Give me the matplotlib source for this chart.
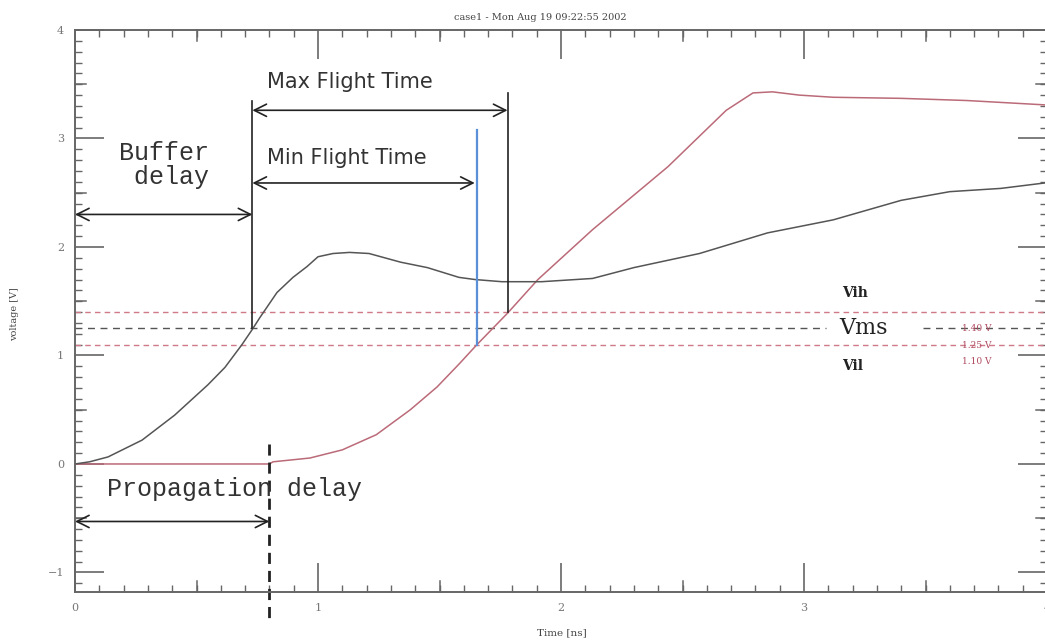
import matplotlib
matplotlib.use("Agg")
import matplotlib.pyplot as plt
import matplotlib.transforms as mtransforms

# ---- data ----
t_drv = [0, 0.06, 0.136, 0.276, 0.41, 0.547, 0.617, 0.687, 0.728, 0.761, 0.831, 0.897,
         0.955, 1.0, 1.062, 1.13, 1.21, 1.34, 1.45, 1.58, 1.646, 1.757, 1.92, 2.13,
         2.30, 2.57, 2.85, 3.12, 3.40, 3.60, 3.81, 3.99]
v_drv = [0, 0.02, 0.065, 0.22, 0.45, 0.73, 0.89, 1.10, 1.235, 1.35, 1.58, 1.72,
         1.82, 1.91, 1.94, 1.95, 1.94, 1.86, 1.81, 1.72, 1.70, 1.68, 1.68, 1.71,
         1.81, 1.94, 2.13, 2.25, 2.43, 2.51, 2.54, 2.59]

t_rcv = [0, 0.80, 0.815, 0.967, 1.10, 1.24, 1.38, 1.49, 1.58, 1.654, 1.78, 1.905,
         2.13, 2.44, 2.68, 2.79, 2.87, 2.98, 3.12, 3.40, 3.67, 3.99]
v_rcv = [0, 0, 0.02, 0.055, 0.13, 0.27, 0.50, 0.71, 0.92, 1.10, 1.39, 1.70,
         2.16, 2.74, 3.26, 3.42, 3.43, 3.40, 3.38, 3.37, 3.35, 3.31]

v_ih, v_ms, v_il = 1.40, 1.25, 1.10
thr_labels = ["1.40 V", "1.25 V", "1.10 V"]

t_buf = 0.73    # buffer delay end / flight time start
t_prop = 0.80   # propagation delay
t_min = 1.655   # min flight time end
t_max = 1.78    # max flight time end

x_ticks = [0, 1, 2, 3, 4]
y_ticks = [-1, 0, 1, 2, 3, 4]

title = "case1 - Mon Aug 19 09:22:55 2002"

# ---- figure ----
W, H = 1045, 641
fig = plt.figure(figsize=(W / 100, H / 100), dpi=100)
ax_l, ax_r, ax_t, ax_b = 75, 1047, 30, 592
ax = fig.add_axes([ax_l / W, 1 - ax_b / H, (ax_r - ax_l) / W, (ax_b - ax_t) / H])
ax.set_xlim(0, 4)
ax.set_ylim(-1.18, 4)

spine_c = "#666666"
for s in ax.spines.values():
    s.set_color(spine_c)
    s.set_linewidth(1.4)

ax.set_xticks(x_ticks)
ax.set_yticks(y_ticks)
ax.set_xticks([i / 10 for i in range(0, 41)], minor=True)
ax.set_yticks([i / 10 for i in range(-11, 41)], minor=True)
ax.tick_params(which="major", direction="in", length=21, width=1.2, color=spine_c,
               top=True, right=True, labelsize=8, labelcolor="#777777", pad=8)
ax.tick_params(which="minor", direction="in", length=5, width=1.0, color=spine_c,
               top=True, right=True)
for lab in ax.get_xticklabels() + ax.get_yticklabels():
    lab.set_family("DejaVu Serif")

# medium ticks at half units
tx = mtransforms.blended_transform_factory(ax.transData, ax.transAxes)
ty = mtransforms.blended_transform_factory(ax.transAxes, ax.transData)
mh = 11 / (ax_b - ax_t)
mw = 11 / (ax_r - ax_l)
for x in [0.5, 1.5, 2.5, 3.5]:
    ax.plot([x, x], [0, mh], transform=tx, color=spine_c, lw=1.1, clip_on=False)
    ax.plot([x, x], [1, 1 - mh], transform=tx, color=spine_c, lw=1.1, clip_on=False)
for y in [-0.5, 0.5, 1.5, 2.5, 3.5]:
    ax.plot([0, mw], [y, y], transform=ty, color=spine_c, lw=1.1, clip_on=False)
    ax.plot([1, 1 - mw], [y, y], transform=ty, color=spine_c, lw=1.1, clip_on=False)

# threshold lines
red_thr = "#d07a88"
ax.axhline(v_ih, color=red_thr, lw=1.0, ls=(0, (4, 3)))
ax.axhline(v_il, color=red_thr, lw=1.0, ls=(0, (4, 3)))
ax.plot([0, 3.09], [v_ms, v_ms], color="#555555", lw=1.0, ls=(0, (5, 4)))
ax.plot([3.49, 4], [v_ms, v_ms], color="#555555", lw=1.0, ls=(0, (5, 4)))

# waveforms
ax.plot(t_rcv, v_rcv, color="#bb6a78", lw=1.1)
ax.plot(t_drv, v_drv, color="#555555", lw=1.1)

# vertical marker lines
ax.plot([t_buf, t_buf], [v_ms, 3.35], color="#222222", lw=1.2)
ax.plot([t_max, t_max], [v_ih, 3.42], color="#222222", lw=1.2)
ax.plot([t_min, t_min], [v_il, 3.08], color="#5b8fd8", lw=1.6)
ax.plot([t_prop, t_prop], [0.18, -1.47], color="#222222", lw=2.0,
        ls=(0, (4, 2.5)), clip_on=False)

# arrows
ap = dict(arrowstyle="<->", color="#222222", lw=1.2, mutation_scale=22,
          shrinkA=0, shrinkB=0)
ax.annotate("", xy=(t_buf, 2.30), xytext=(0, 2.30), arrowprops=ap)
ax.annotate("", xy=(t_max, 3.26), xytext=(t_buf, 3.26), arrowprops=ap)
ax.annotate("", xy=(t_min - 0.01, 2.59), xytext=(t_buf, 2.59), arrowprops=ap)
ax.annotate("", xy=(t_prop, -0.53), xytext=(0, -0.53), arrowprops=ap)

# annotation texts
mono = ["Liberation Mono", "DejaVu Sans Mono"]
ax.text(0.18, 2.76, "Buffer\n delay", family=mono, fontsize=18, color="#333333",
        va="center", ha="left", linespacing=1.0)
ax.text(0.13, -0.23, "Propagation delay", family=mono, fontsize=18, color="#333333",
        va="center", ha="left")
ax.text(0.79, 3.52, "Max Flight Time", family="DejaVu Sans", fontsize=15,
        color="#333333", va="center", ha="left")
ax.text(0.79, 2.82, "Min Flight Time", family="DejaVu Sans", fontsize=15,
        color="#333333", va="center", ha="left")

ax.text(3.155, 1.58, "Vih", family="DejaVu Serif", fontsize=10, fontweight="bold",
        color="#222222", va="center", ha="left")
ax.text(3.145, 1.25, "Vms", family="DejaVu Serif", fontsize=16,
        color="#222222", va="center", ha="left")
ax.text(3.155, 0.90, "Vil", family="DejaVu Serif", fontsize=10, fontweight="bold",
        color="#222222", va="center", ha="left")
for yv, lab in zip([1.25, 1.09, 0.94], thr_labels):
    ax.text(3.65, yv, lab, family="DejaVu Serif", fontsize=6.5, color="#b04a60",
            va="center", ha="left")

fig.text(540 / W, 1 - 18 / H, title, family="DejaVu Serif", fontsize=7,
         color="#444444", ha="center", va="center")
fig.text(562 / W, 1 - 633 / H, "Time [ns]", family="DejaVu Serif", fontsize=7.5,
         color="#444444", ha="center", va="center")
fig.text(15 / W, 1 - 314 / H, "voltage [V]", family="DejaVu Serif", fontsize=7,
         color="#444444", ha="center", va="center", rotation=90)

fig.savefig("out.png", dpi=100)
